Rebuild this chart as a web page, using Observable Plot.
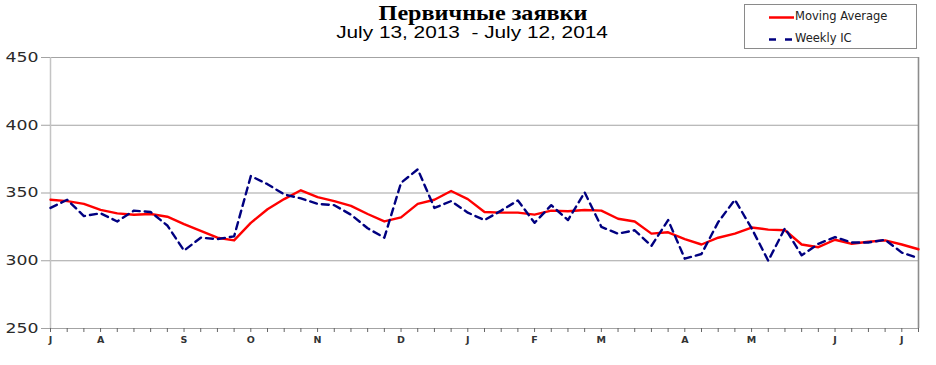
<!DOCTYPE html>
<html>
<head>
<meta charset="utf-8">
<script src="https://cdn.jsdelivr.net/npm/d3@7"></script>
<script src="https://cdn.jsdelivr.net/npm/@observablehq/plot@0.6"></script>
<style>
  html, body { margin: 0; padding: 0; background: #fff; }
  #wrap { position: relative; width: 936px; height: 365px; overflow: hidden; }
  #chart { position: absolute; left: 0; top: 0; }
  #title { position: absolute; left: 283px; width: 400px; top: 1px; text-align: center;
    font-family: "Liberation Serif", "Times New Roman", serif; font-weight: bold; font-size: 21px; color: #000;
    transform: scaleX(1.15); }
  #subtitle { position: absolute; left: 272px; width: 400px; top: 24px; text-align: center; white-space: pre;
    font-family: "Liberation Sans", Arial, sans-serif; font-size: 16px; color: #000;
    transform: scaleX(1.3); }
  #legend { position: absolute; left: 744px; top: 4px; width: 171px; height: 43px; border: 1px solid #8a8a8a; background: #fff; }
  .lg { position: absolute; left: 50px; font-family: "DejaVu Sans", sans-serif; font-size: 11.5px; color: #222; }
</style>
</head>
<body>
<div id="wrap">
  <div id="chart"></div>
  <div id="title">Первичные заявки</div>
  <div id="subtitle">July 13, 2013  - July 12, 2014</div>
  <div id="legend">
    <svg width="171" height="43" style="position:absolute;left:0;top:0">
      <line x1="24" x2="49" y1="12.5" y2="12.5" stroke="#ff0000" stroke-width="2.5"/>
      <line x1="24" x2="49" y1="34.5" y2="34.5" stroke="#000080" stroke-width="2.5" stroke-dasharray="7,9"/>
    </svg>
    <div class="lg" style="top:4px">Moving Average</div>
    <div class="lg" style="top:26px">Weekly IC</div>
  </div>
</div>
<script>
// Week index 0 = July 13, 2013 ... 52 = July 12, 2014
const weeks = d3.range(53);
const movingAverage = [
  345, 344, 342, 337.5, 335, 334, 334.5, 332.5, 327, 322,
  317, 315, 328, 338, 345.5, 352, 347, 344, 340.5, 334.5,
  329, 332, 342, 345, 351.5, 345.5, 336, 335.5, 335.5, 334,
  337, 336.5, 337.5, 337, 331, 329, 320, 321, 316, 312,
  317, 320, 324.5, 323, 322.5, 312, 310, 315.5, 312.5, 314,
  315, 312, 308.5
];
const weeklyIC = [
  339, 345, 333, 335, 329, 337, 336, 326, 307.5, 317,
  316, 318, 362.5, 356.5, 349, 346, 342, 341, 334, 324,
  317, 357.5, 367.5, 339, 344, 335.5, 330, 337, 344.5, 328,
  341, 330, 350.5, 325, 320, 322.5, 311, 330, 301.5, 305,
  328.5, 345, 324, 300, 324, 304, 312.5, 317.5, 313.5, 313.5,
  315.5, 306, 302
];
const monthTickWeeks = [0, 3, 8, 12, 16, 21, 25, 29, 33, 38, 42, 47, 51];
const monthTickLabels = ["J", "A", "S", "O", "N", "D", "J", "F", "M", "A", "M", "J", "J"];
const yTicks = [250, 300, 350, 400, 450];

const labelByWeek = new Map(monthTickWeeks.map((w, i) => [w, monthTickLabels[i]]));
const maData = weeks.map((w, i) => ({week: w, value: movingAverage[i]}));
const icData = weeks.map((w, i) => ({week: w, value: weeklyIC[i]}));

const chart = Plot.plot({
  width: 936,
  height: 365,
  marginLeft: 50,
  marginRight: 18,
  marginTop: 57,
  marginBottom: 37,
  style: {fontFamily: "DejaVu Sans, sans-serif", background: "#fff"},
  x: {domain: [0, 52]},
  y: {domain: [250, 450]},
  marks: [
    Plot.ruleY(yTicks, {stroke: "#a3a3a3", strokeWidth: 1.2}),
    Plot.ruleX([0], {stroke: "#c4c4c4", strokeWidth: 1.5}),
    Plot.ruleX([52], {stroke: "#8c8c8c", strokeWidth: 1.6}),
    Plot.axisY({ticks: yTicks, tickSize: 9, tickPadding: 3, stroke: "#a3a3a3",
      fontSize: 14, fill: "#2a2a2a", label: null}),
    Plot.axisX({ticks: weeks, tickSize: 4, tickPadding: 4, stroke: "#666",
      tickFormat: w => labelByWeek.get(w) ?? "", fontSize: 9.5, fontWeight: "bold", fill: "#333", label: null}),
    Plot.line(maData, {x: "week", y: "value", stroke: "#ff0000", strokeWidth: 2.4, curve: "linear"}),
    Plot.line(icData, {x: "week", y: "value", stroke: "#000080", strokeWidth: 2.4, strokeDasharray: "7,5", curve: "linear"})
  ]
});
// Widen the y tick labels horizontally, as in the reference
d3.select(chart).selectAll('g[aria-label="y-axis tick label"] text')
  .attr("textLength", 33).attr("lengthAdjust", "spacingAndGlyphs");
document.getElementById("chart").appendChild(chart);
</script>
</body>
</html>
